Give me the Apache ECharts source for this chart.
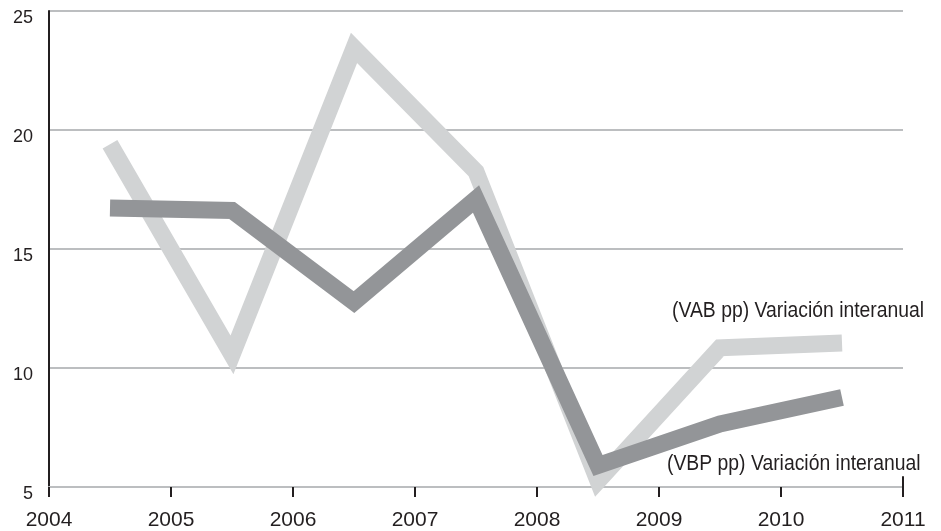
<!DOCTYPE html>
<html>
<head>
<meta charset="utf-8">
<script src="https://cdn.jsdelivr.net/npm/echarts@6/dist/echarts.min.js"></script>
<style>
html,body{margin:0;padding:0;background:#fff;}
#c{width:941px;height:531px;}
</style>
</head>
<body>
<div id="c"></div>
<script>
// Data
const xPositions = [2004.5, 2005.5, 2006.5, 2007.5, 2008.5, 2009.5, 2010.5];
const vabValues = [19.4, 10.55, 23.45, 18.25, 5.25, 10.85, 11.05];
const vbpValues = [16.72, 16.62, 12.77, 17.1, 5.9, 7.65, 8.76];
const xTickLabels = ['2004', '2005', '2006', '2007', '2008', '2009', '2010', '2011'];
const yTickLabels = ['5', '10', '15', '20', '25'];
const vabName = '(VAB pp) Variación interanual';
const vbpName = '(VBP pp) Variación interanual';

const FONT = '"Liberation Sans", Arial, sans-serif';
const chart = echarts.init(document.getElementById('c'));
chart.setOption({
  animation: false,
  backgroundColor: '#ffffff',
  grid: { left: 49, right: 38, top: 11, bottom: 44, containLabel: false },
  xAxis: {
    type: 'value', min: 2004, max: 2011, interval: 1,
    axisLine: { show: true, lineStyle: { color: '#bcbec0', width: 2 } },
    axisTick: { show: true, length: 10, lineStyle: { color: '#231f20', width: 2 } },
    splitLine: { show: false },
    axisLabel: {
      color: '#231f20', fontFamily: FONT, fontSize: 21, margin: 23,
      formatter: v => xTickLabels[Math.round(v - 2004)]
    }
  },
  yAxis: {
    type: 'value', min: 5, max: 25, interval: 5,
    axisLine: { show: true, onZero: false, lineStyle: { color: '#231f20', width: 2 } },
    axisTick: { show: false },
    splitLine: { show: true, lineStyle: { color: '#bcbec0', width: 2 } },
    axisLabel: {
      color: '#231f20', fontFamily: FONT, fontSize: 18, margin: 16,
      verticalAlign: 'top', lineHeight: 14,
      formatter: v => yTickLabels[Math.round((v - 5) / 5)]
    }
  },
  series: [
    {
      name: vabName, type: 'line', clip: false,
      data: xPositions.map((x, i) => [x, vabValues[i]]),
      showSymbol: false, symbol: 'none',
      lineStyle: { color: '#d1d3d4', width: 17, cap: 'butt', join: 'miter' },
      z: 2
    },
    {
      name: vbpName, type: 'line', clip: false,
      data: xPositions.map((x, i) => [x, vbpValues[i]]),
      showSymbol: false, symbol: 'none',
      lineStyle: { color: '#939598', width: 17, cap: 'butt', join: 'miter' },
      markLine: {
        silent: true, symbol: 'none', label: { show: false },
        lineStyle: { color: '#231f20', width: 2, type: 'solid' },
        data: [[{ coord: [2011, 5] }, { coord: [2011, 5.45] }]]
      },
      z: 3
    }
  ],
  graphic: [
    { type: 'text', x: 672, y: 300, scaleX: 0.88, z: 10,
      style: { text: vabName, fill: '#231f20', font: '22px ' + FONT, textVerticalAlign: 'top' } },
    { type: 'text', x: 667, y: 453, scaleX: 0.88, z: 10,
      style: { text: vbpName, fill: '#231f20', font: '22px ' + FONT, textVerticalAlign: 'top' } }
  ]
});
</script>
</body>
</html>
